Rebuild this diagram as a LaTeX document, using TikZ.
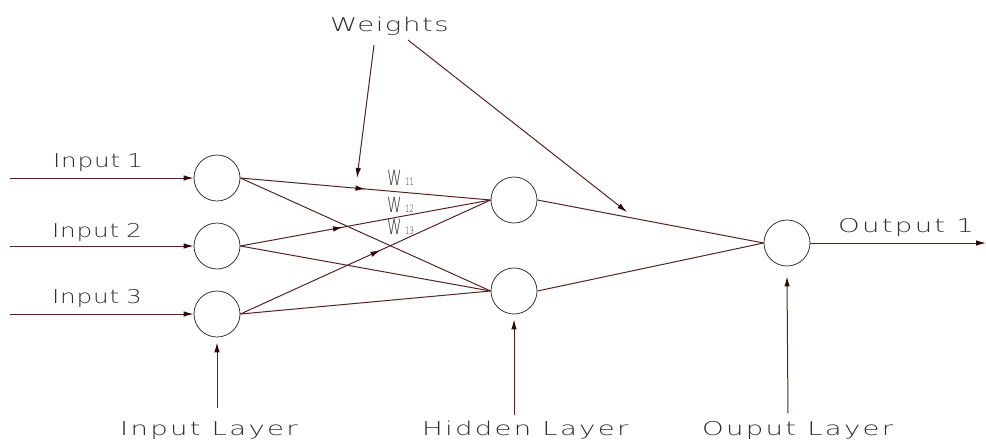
\documentclass[tikz,border=0pt]{standalone}
\usepackage{fontspec}
\usetikzlibrary{arrows.meta,decorations.markings}
\newfontfamily\cad{DejaVu Sans ExtraLight}[FakeStretch=1.45,LetterSpace=12]
\newfontfamily\cadin{DejaVu Sans ExtraLight}[FakeStretch=1.3,LetterSpace=4,WordSpace=0.8]
\newfontfamily\cadw{DejaVu Sans ExtraLight}[FakeStretch=1.45,LetterSpace=8]
\newfontfamily\wcad{DejaVu Sans ExtraLight}[FakeStretch=0.7]
\definecolor{wirec}{RGB}{85,35,35}
\definecolor{arrowc}{RGB}{50,8,8}
\definecolor{circc}{RGB}{55,55,55}
\definecolor{txtc}{RGB}{45,45,45}
\begin{document}
\begin{tikzpicture}[x=1pt,y=-1pt,
  neuron/.style={circle,draw=circc,line width=0.8pt,minimum size=46pt,inner sep=0pt},
  wire/.style={draw=wirec,line width=1pt},
  tip/.style={-{Latex[length=10pt,width=5.5pt,color=arrowc]}},
  lbl/.style={text=txtc,font=\cad\fontsize{19}{19}\selectfont,anchor=base west,inner sep=0pt},
  inlbl/.style={lbl,font=\cadin\fontsize{19}{19}\selectfont},
  wtlbl/.style={lbl,font=\cadw\fontsize{19}{19}\selectfont},
  wlbl/.style={text=txtc,font=\wcad\fontsize{21}{21}\selectfont,anchor=base west,inner sep=0pt},
  midarrow/.style={postaction={decorate},decoration={markings,mark=at position #1 with {\arrow{Latex[length=10pt,width=5.5pt,color=arrowc]}}}}
]
\useasboundingbox (0,0) rectangle (986,440);
% neurons
\node[neuron] (i1) at (217,178) {};
\node[neuron] (i2) at (217,246) {};
\node[neuron] (i3) at (217,314) {};
\node[neuron] (h1) at (514,200) {};
\node[neuron] (h2) at (514,291) {};
\node[neuron] (o) at (787,243) {};
% inputs
\coordinate (s1) at (10,178);
\coordinate (s2) at (10,246);
\coordinate (s3) at (10,314);
\coordinate (e1) at (986,243);
\draw[wire,tip] (s1) -- (i1.west);
\draw[wire,tip] (s2) -- (i2.west);
\draw[wire,tip] (s3) -- (i3.west);
\draw[wire,tip] (o.east) -- (e1);
% input -> hidden
\draw[wire,midarrow=0.5] (i1.east) -- (h1.west);
\draw[wire,midarrow=0.41] (i2.east) -- (h1.west);
\draw[wire,midarrow=0.56] (i3.east) -- (h1.west);
\draw[wire] (i1.east) -- (h2.west);
\draw[wire] (i2.east) -- (h2.west);
\draw[wire] (i3.east) -- (h2.west);
% hidden -> output
\draw[wire] (h1.east) -- (o.west);
\draw[wire] (h2.east) -- (o.west);
% labels
\node[inlbl] (t1) at (53,167) {Input 1};
\node[inlbl] (t2) at (52,237) {Input 2};
\node[inlbl] (t3) at (52,303) {Input 3};
\node[wtlbl] (tw) at (330,31) {Weights};
\node[lbl] (to) at (838,232) {Output 1};
\node[lbl] (li) at (120,435) {Input Layer};
\node[lbl] (lh) at (422,435) {Hidden Layer};
\node[lbl] (lo) at (702,435) {Ouput Layer};
\node[wlbl] (w11) at (387,185) {W\,{\fontsize{10}{10}\selectfont 11}};
\node[wlbl] (w12) at (387,212) {W\,{\fontsize{10}{10}\selectfont 12}};
\node[wlbl] (w13) at (387,234) {W\,{\fontsize{10}{10}\selectfont 13}};
% weights pointers
\coordinate (wa) at (374,45);
\coordinate (wat) at (357,178);
\coordinate (wb) at (408,40);
\coordinate (wbt) at (627,212);
\draw[wire,tip] (wa) -- (wat);
\draw[wire,tip] (wb) -- (wbt);
% layer pointers
\coordinate (pi) at (217,408);
\coordinate (ph) at (514,415);
\coordinate (po) at (788,413);
\draw[wire,tip] (pi) -- ([yshift=-5pt]i3.south);
\draw[wire,tip] (ph) -- ([yshift=-5pt]h2.south);
\draw[wire,tip] (po) -- ([yshift=-10pt]o.south);
\end{tikzpicture}
\end{document}
